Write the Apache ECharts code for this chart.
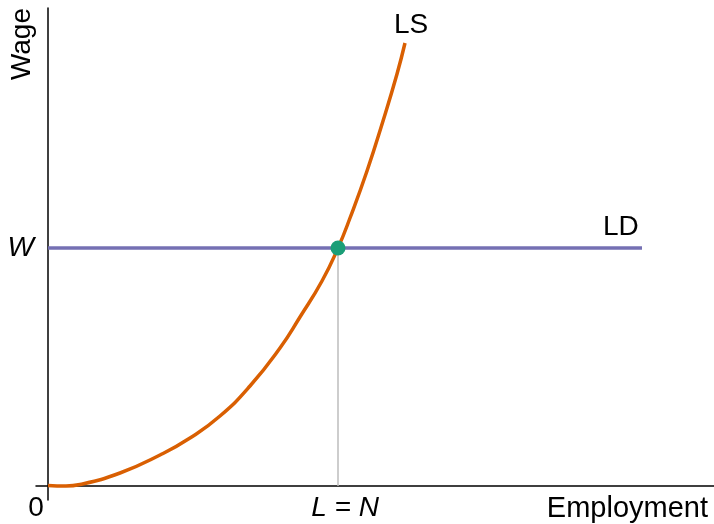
<!DOCTYPE html>
<html>
<head>
<meta charset="utf-8">
<script src="https://cdn.jsdelivr.net/npm/echarts@6/dist/echarts.min.js"></script>
<style>
  html, body { margin: 0; padding: 0; background: #fff; }
  #chart { width: 714px; height: 524px; }
</style>
</head>
<body>
<div id="chart"></div>
<script>
// labour supply curve
var lsX = [0, 18, 32, 72, 112, 142, 172, 202, 232, 252, 274, 290, 302, 319, 335, 349, 357];
var lsY = [0.5, 0, 1.5, 13, 31, 48, 70, 100, 138, 169, 205, 238, 268, 315, 365, 412, 443];
// labour demand: flat at the wage
var ldX = [0, 594];
var ldY = [238, 238];
// equilibrium
var eqX = 290;
var eqY = 238;
var xTicks = [0, eqX];
var xTickText = ['0', 'L = N'];
var yTicks = [eqY];
var yTickText = ['W'];

var font = 'Liberation Sans, Arial, sans-serif';

var lsData = lsX.map(function (x, i) { return [x, lsY[i]]; });
var ldData = ldX.map(function (x, i) { return [x, ldY[i]]; });

var myChart = echarts.init(document.getElementById('chart'));
var option = {
  animation: false,
  grid: { left: 36, right: 0, top: 8, bottom: 24, outerBoundsMode: 'none' },
  xAxis: {
    type: 'value',
    min: -12,
    max: 666,
    name: 'Employment',
    nameLocation: 'end',
    nameGap: -6,
    nameTextStyle: { align: 'right', verticalAlign: 'top', padding: [8, 0, 0, 0], color: '#000', fontSize: 29, fontFamily: font },
    splitLine: { show: false },
    axisTick: { show: false },
    axisLine: { onZero: true, lineStyle: { color: '#000', width: 1.5 } },
    axisLabel: {
      customValues: xTicks,
      margin: -6,
      color: '#000',
      fontSize: 28,
      fontFamily: font,
      formatter: function (v) {
        var i = xTicks.indexOf(v);
        if (i === 0) return '{zero|' + xTickText[i] + '}';
        return '{it|' + xTickText[i] + '}';
      },
      rich: {
        zero: { fontSize: 28, fontFamily: font, color: '#000', padding: [0, 24, 0, 0] },
        it: { fontSize: 28, fontFamily: font, color: '#000', fontStyle: 'italic', padding: [0, 0, 0, 14] }
      }
    }
  },
  yAxis: {
    type: 'value',
    min: -14,
    max: 478,
    name: 'Wage',
    nameLocation: 'end',
    nameRotate: 90,
    nameGap: 0,
    nameTextStyle: { align: 'right', verticalAlign: 'bottom', padding: [0, 0, 12, 0], color: '#000', fontSize: 28, fontFamily: font },
    splitLine: { show: false },
    axisTick: { show: false },
    axisLine: { onZero: true, lineStyle: { color: '#000', width: 1.5 } },
    axisLabel: {
      customValues: yTicks,
      margin: 2,
      color: '#000',
      fontSize: 28,
      fontStyle: 'italic',
      fontFamily: font,
      formatter: function (v) {
        var i = yTicks.indexOf(v);
        return i >= 0 ? yTickText[i] : '';
      }
    }
  },
  series: [
    {
      name: 'drop',
      type: 'line',
      data: [[eqX, 0], [eqX, eqY]],
      symbol: 'none',
      lineStyle: { color: '#bdbdbd', width: 1.5 },
      z: 1
    },
    {
      name: 'LD',
      type: 'line',
      data: ldData,
      symbol: 'none',
      lineStyle: { color: '#7570b3', width: 3.5 },
      endLabel: { show: true, formatter: 'LD', offset: [-47, -21], color: '#000', fontSize: 28, fontFamily: font },
      z: 2
    },
    {
      name: 'LS',
      type: 'line',
      data: lsData,
      smooth: true,
      symbol: 'none',
      lineStyle: { color: '#d95f02', width: 3.5 },
      endLabel: { show: true, formatter: 'LS', offset: [-19, -18], color: '#000', fontSize: 28, fontFamily: font },
      z: 3
    },
    {
      name: 'eq',
      type: 'scatter',
      data: [[eqX, eqY]],
      symbolSize: 15,
      itemStyle: { color: '#1b9e77', opacity: 1 },
      z: 4
    }
  ]
};
myChart.setOption(option);
window.addEventListener('resize', function () { myChart.resize(); });
</script>
</body>
</html>
